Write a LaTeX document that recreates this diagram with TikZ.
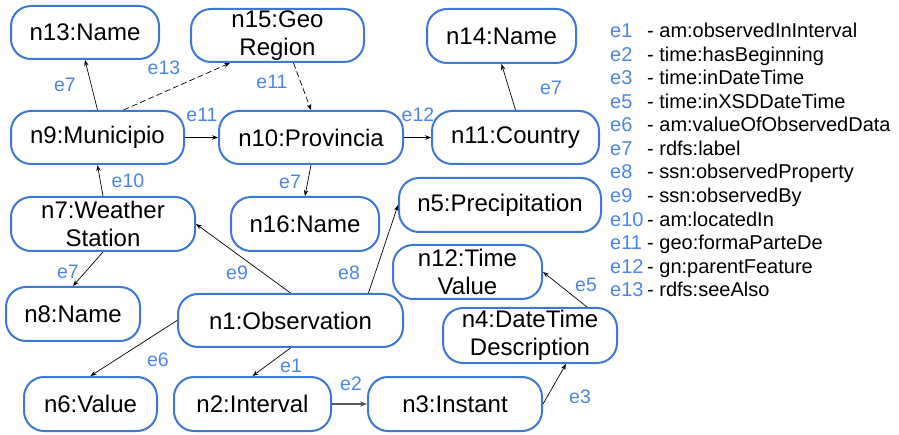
\documentclass[tikz,border=0pt]{standalone}
\usepackage{fontspec}
\setmainfont{Liberation Sans}
\usetikzlibrary{arrows.meta,calc}
\definecolor{nodeblue}{HTML}{3C78D8}
\definecolor{labblue}{HTML}{4A86E8}
\tikzset{
  nd/.style={draw=nodeblue, line width=2pt, rounded corners=20pt, align=center,
    inner sep=0pt, font=\fontsize{24}{28}\selectfont, text=black},
  conn/.style={draw=black, line width=0.7pt, -{Stealth[length=6pt,width=4.5pt]}},
  dconn/.style={conn, dash pattern=on 6pt off 3pt},
  elab/.style={text=labblue, font=\fontsize{19.5}{22}\selectfont, inner sep=0pt},
  leg/.style={anchor=base west, inner sep=0pt, font=\fontsize{20}{22}\selectfont},
}
\begin{document}
\begin{tikzpicture}[x=1pt,y=-1pt]
\useasboundingbox (0,0) rectangle (899,435);
% nodes
\node[nd, minimum width=148pt, minimum height=53pt] (n13) at (85,32.5) {n13:Name};
\node[nd, minimum width=173pt, minimum height=53pt] (n15) at (277.5,35.5) {n15:Geo\\Region};
\node[nd, minimum width=149pt, minimum height=54pt] (n14) at (501.5,36) {n14:Name};
\node[nd, minimum width=173pt, minimum height=53pt] (n9) at (97.5,137.5) {n9:Municipio};
\node[nd, minimum width=184pt, minimum height=53pt] (n10) at (311,137.5) {n10:Provincia};
\node[nd, minimum width=167pt, minimum height=53pt] (n11) at (515.5,137.5) {n11:Country};
\node[nd, minimum width=184pt, minimum height=54pt] (n7) at (103,224) {n7:Weather\\Station};
\node[nd, minimum width=148pt, minimum height=54pt] (n16) at (305,224) {n16:Name};
\node[nd, minimum width=202pt, minimum height=54pt] (n5) at (500,205) {n5:Precipitation};
\node[nd, minimum width=149pt, minimum height=54pt] (n12) at (467.5,272) {n12:Time\\Value};
\node[nd, minimum width=174pt, minimum height=55pt] (n4) at (530,335.5) {n4:DateTime\\Description};
\node[nd, minimum width=134pt, minimum height=54pt] (n8) at (73,314) {n8:Name};
\node[nd, minimum width=225pt, minimum height=53pt] (n1) at (290.5,320.5) {n1:Observation};
\node[nd, minimum width=133pt, minimum height=54pt] (n6) at (90.5,404) {n6:Value};
\node[nd, minimum width=157pt, minimum height=54pt] (n2) at (252.5,404) {n2:Interval};
\node[nd, minimum width=174pt, minimum height=54pt] (n3) at (455,404) {n3:Instant};
% connectors
\draw[conn] (n9.north) -- (n13.south);
\draw[dconn] ($(n9.north)+(26,0)$) -- ($(n15.south west)+(40,0)$);
\draw[dconn] ($(n15.south)+(16,0)$) -- (n10.north);
\draw[conn] (n9.east) -- (n10.west);
\draw[conn] (n10.east) -- (n11.west);
\draw[conn] (n11.north) -- (n14.south);
\draw[conn] (n7.north) -- (n9.south);
\draw[conn] (n10.south) -- (n16.north);
\draw[conn] (n7.south) -- (n8.north);
\draw[conn] (n1.north) -- (n7.east);
\draw[conn] ($(n1.north)+(78,0)$) -- (n5.west);
\draw[conn] (n1.west) -- (n6.north);
\draw[conn] (n1.south) -- (n2.north);
\draw[conn, draw=black!65, line width=1.5pt, -{Stealth[length=7pt,width=5.5pt]}] (n2.east) -- (n3.west);
\draw[conn] (n3.east) -- ($(n4.south)+(36,0)$);
\draw[conn] ($(n4.north)+(57,0)$) -- (n12.east);
% edge labels
\node[elab] (l1) at (65,85) {e7};
\node[elab] (l2) at (164,68) {e13};
\node[elab] (l3) at (272,82) {e11};
\node[elab] (l4) at (202,115) {e11};
\node[elab] (l5) at (418,115) {e12};
\node[elab] (l6) at (551,88) {e7};
\node[elab] (l7) at (128,181) {e10};
\node[elab] (l8) at (290,182) {e7};
\node[elab] (l9) at (68,272) {e7};
\node[elab] (l10) at (237,273) {e9};
\node[elab] (l11) at (349,273) {e8};
\node[elab] (l12) at (158,360) {e6};
\node[elab] (l13) at (291,366) {e1};
\node[elab] (l14) at (351,384) {e2};
\node[elab] (l15) at (586,285) {e5};
\node[elab] (l16) at (580,397) {e3};
% legend
\foreach \k/\e/\t [count=\i from 0] in {a/e1/am:observedInInterval, b/e2/time:hasBeginning, c/e3/time:inDateTime, d/e5/time:inXSDDateTime, e/e6/am:valueOfObservedData, f/e7/rdfs:label, g/e8/ssn:observedProperty, h/e9/ssn:observedBy, i/e10/am:locatedIn, j/e11/geo:formaParteDe, k/e12/gn:parentFeature, l/e13/rdfs:seeAlso} {
  \node[leg, text=labblue] (k\k) at (610,{37.5+23.57*\i}) {\e};
  \node[leg] (t\k) at (647,{37.5+23.57*\i}) {- \t};
}
\end{tikzpicture}
\end{document}
